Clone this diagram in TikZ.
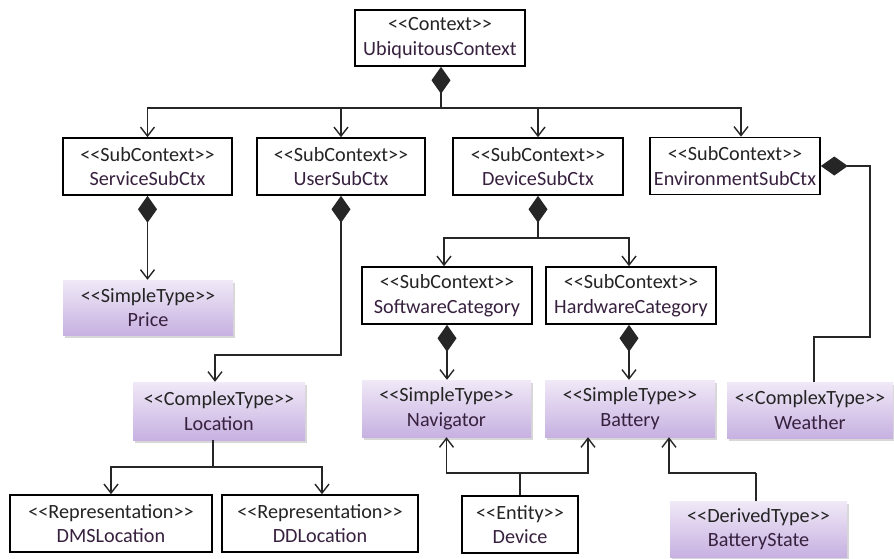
\documentclass[tikz,border=0pt]{standalone}
\usepackage{fontspec}
\setmainfont{Carlito}
\usetikzlibrary{arrows.meta,shadows}
\definecolor{stereo}{HTML}{242424}
\definecolor{cname}{HTML}{38213F}
\definecolor{typetop}{HTML}{F0E9F7}
\definecolor{typebot}{HTML}{C7B1E1}
\tikzset{
  base/.style={align=center, inner sep=0pt, font=\fontsize{20.2}{24.5}\selectfont, text=stereo},
  ctxbox/.style={base, draw=black, line width=1.6pt, fill=white},
  typebox/.style={base, top color=typetop, bottom color=typebot,
    drop shadow={shadow xshift=2pt, shadow yshift=-2.5pt, fill=black!35, opacity=.45}},
  link/.style={line width=1.5pt, draw=black!85},
  arr/.style={link, -{Straight Barb[length=9pt,width=14pt,line width=1.4pt]}},
  comp/.style={link, {Diamond[length=27pt,width=19pt]}-},
  comparr/.style={link, {Diamond[length=27pt,width=19pt]}-{Straight Barb[length=9pt,width=14pt,line width=1.4pt]}},
}
% two-line label: stereotype in double angle brackets, then the name
% (the kerns keep the font mapping from merging the brackets into guillemets)
\newcommand{\lbl}[2]{<\kern0pt<#1>\kern0pt>\\{\color{cname}#2}}
\begin{document}
\begin{tikzpicture}[x=1pt,y=-1pt]
\useasboundingbox (0,0) rectangle (894,559);

% context classes
\node[ctxbox, minimum width=170pt, minimum height=56pt] (uc)  at (440,38)    {\lbl{Context}{UbiquitousContext}};
\node[ctxbox, minimum width=169pt, minimum height=57pt] (svc) at (147.5,166.5) {\lbl{SubContext}{ServiceSubCtx}};
\node[ctxbox, minimum width=168pt, minimum height=57pt] (usr) at (341,166.5) {\lbl{SubContext}{UserSubCtx}};
\node[ctxbox, minimum width=170pt, minimum height=57pt] (dev) at (538,166.5) {\lbl{SubContext}{DeviceSubCtx}};
\node[ctxbox, minimum width=170pt, minimum height=57pt] (env) at (735,166)   {\lbl{SubContext}{EnvironmentSubCtx}};
\node[ctxbox, minimum width=170pt, minimum height=57pt] (sw)  at (447,295.5) {\lbl{SubContext}{SoftwareCategory}};
\node[ctxbox, minimum width=170pt, minimum height=57pt] (hw)  at (631,295.5) {\lbl{SubContext}{HardwareCategory}};
\node[ctxbox, minimum width=202pt, minimum height=57pt] (dms) at (111,523.5) {\lbl{Representation}{DMSLocation}};
\node[ctxbox, minimum width=196pt, minimum height=57pt] (dd)  at (320,523.5) {\lbl{Representation}{DDLocation}};
\node[ctxbox, minimum width=116pt, minimum height=57pt] (devc) at (520,524.5) {\lbl{Entity}{Device}};

% data types
\node[typebox, minimum width=170pt, minimum height=55pt] (price) at (148,307.5) {\lbl{SimpleType}{Price}};
\node[typebox, minimum width=172pt, minimum height=58pt] (loc)   at (219,411)   {\lbl{ComplexType}{Location}};
\node[typebox, minimum width=169pt, minimum height=57pt] (nav)   at (446.5,408.5) {\lbl{SimpleType}{Navigator}};
\node[typebox, minimum width=170pt, minimum height=57pt] (bat)   at (630,408.5) {\lbl{SimpleType}{Battery}};
\node[typebox, minimum width=166pt, minimum height=56pt] (wea)   at (810,410)   {\lbl{ComplexType}{Weather}};
\node[typebox, minimum width=177pt, minimum height=56pt] (bs)    at (758.5,529) {\lbl{DerivedType}{BatteryState}};

% junction points
\coordinate (j0) at (441,108);
\coordinate (j1) at (341,355);
\coordinate (j2) at (538,238);
\coordinate (j3) at (870,166);
\coordinate (j4) at (870,337);
\coordinate (j5) at (213,467);
\coordinate (j6) at (520,473);
\coordinate (j7) at (756,473);

% composition: context -> sub-contexts
\draw[comp] (uc.south -| j0) -- (j0);
\draw[arr] (j0) -| (svc.north);
\draw[arr] (j0) -| (usr.north);
\draw[arr] (j0) -| (dev.north);
\draw[arr] (j0) -| ([xshift=6pt]env.north);

% sub-context compositions
\draw[comparr] (svc.south) -- (svc.south |- price.north);
\draw[comparr] (usr.south) -- (j1) -| ([xshift=-4pt]loc.north);
\draw[comp] (dev.south) -- (j2);
\draw[arr] (j2) -| ([xshift=-3pt]sw.north);
\draw[arr] (j2) -| ([xshift=-2pt]hw.north);
\draw[comparr] (sw.south) -- (sw.south |- nav.north);
\draw[comparr] ([xshift=-2pt]hw.south) -- ([xshift=-1pt]bat.north);
\draw[comp] (env.east) -- (j3) -- (j4) -| ([xshift=4pt]wea.north);

% location representations
\draw[link] (loc.south -| j5) -- (j5);
\draw[arr] (j5) -| (dms.north);
\draw[arr] (j5) -| ([xshift=2pt]dd.north);

% device and derived type
\draw[link] (devc.north) -- (j6);
\draw[arr] (j6) -| (nav.south);
\draw[arr] (j6) -| ([xshift=-42pt]bat.south);
\draw[link] ([xshift=-2.5pt]bs.north) -- (j7);
\draw[arr] (j7) -| ([xshift=39pt]bat.south);
\end{tikzpicture}
\end{document}
